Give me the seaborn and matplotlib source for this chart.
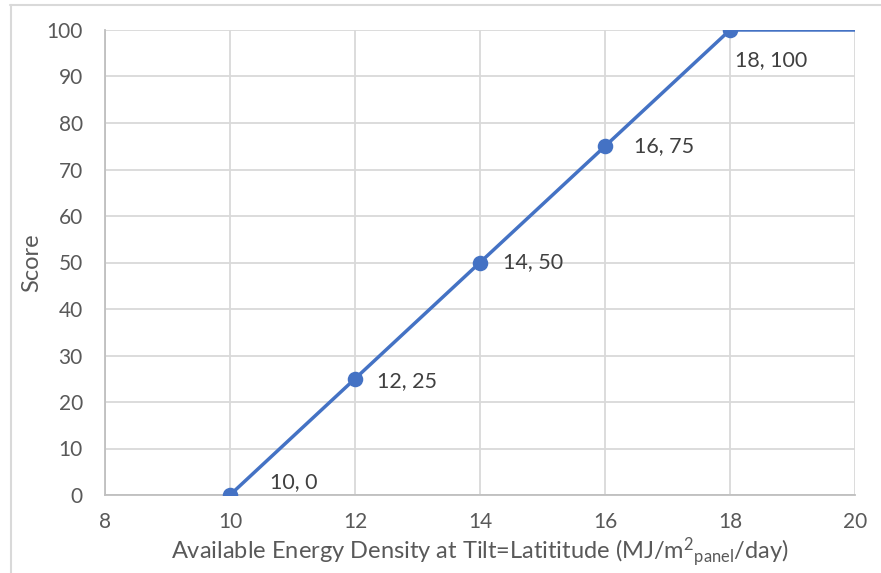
import matplotlib
matplotlib.use("Agg")
import matplotlib.pyplot as plt
from matplotlib.lines import Line2D
import seaborn as sns
import pandas as pd

# Scoring curve: energy density -> score
energy = [10, 12, 14, 16, 18, 20]
score = [0, 25, 50, 75, 100, 100]
# Points that carry a marker and a data label
marked_energy = [10, 12, 14, 16, 18]
marked_score = [0, 25, 50, 75, 100]
x_ticks = [8, 10, 12, 14, 16, 18, 20]
y_ticks = [0, 10, 20, 30, 40, 50, 60, 70, 80, 90, 100]

sns.set_theme(style="white")
plt.rcParams["font.family"] = ["Lato", "DejaVu Sans"]
plt.rcParams["mathtext.default"] = "regular"

TEXT = "#595959"
GRID = "#d9d9d9"
BLUE = "#4472C4"

fig = plt.figure(figsize=(8.81, 5.73), dpi=100)
ax = fig.add_axes([105 / 881, 1 - 495 / 573, 750 / 881, 465 / 573])

line_df = pd.DataFrame({"energy": energy, "score": score})
pts_df = pd.DataFrame({"energy": marked_energy, "score": marked_score})

sns.lineplot(data=line_df, x="energy", y="score", ax=ax, color=BLUE,
             linewidth=2.5, zorder=3)
sns.scatterplot(data=pts_df, x="energy", y="score", ax=ax, color=BLUE,
                s=125, edgecolor=BLUE, linewidth=0, zorder=4)

# data labels "x, y"
offsets = [(40, 13), (22, -2), (23, 0), (29, 0), (5, -30)]
for xv, yv, (dx, dy) in zip(marked_energy, marked_score, offsets):
    ax.annotate(f"{xv}, {yv}", (xv, yv), xytext=(dx, dy),
                textcoords="offset pixels", ha="left", va="center",
                fontsize=15.5, color="#404040")

ax.set_xlim(8, 20)
ax.set_ylim(0, 100)
ax.set_xticks(x_ticks)
ax.set_yticks(y_ticks)
ax.grid(True, color=GRID, linewidth=1.3)
ax.set_axisbelow(True)
for side in ["top", "right"]:
    ax.spines[side].set_visible(False)
for side in ["left", "bottom"]:
    ax.spines[side].set_color("#bfbfbf")
    ax.spines[side].set_linewidth(1.3)
ax.tick_params(axis="x", length=0, labelsize=15, labelcolor=TEXT, pad=12)
ax.tick_params(axis="y", length=0, labelsize=15, labelcolor=TEXT, pad=16)

ax.set_xlabel(r"Available Energy Density at Tilt=Latititude (MJ/m$^2$$_{panel}$/day)",
              fontsize=17, color=TEXT, labelpad=3)
ax.set_ylabel("Score", fontsize=17, color=TEXT, labelpad=3)

# outer chart frame (top and left edges)
fig.add_artist(Line2D([10 / 881, 1], [1 - 4.5 / 573, 1 - 4.5 / 573],
                      transform=fig.transFigure, color=GRID, linewidth=1.5))
fig.add_artist(Line2D([10.5 / 881, 10.5 / 881], [0, 1 - 4.5 / 573],
                      transform=fig.transFigure, color=GRID, linewidth=1.5))

fig.savefig("out.png", dpi=100)
